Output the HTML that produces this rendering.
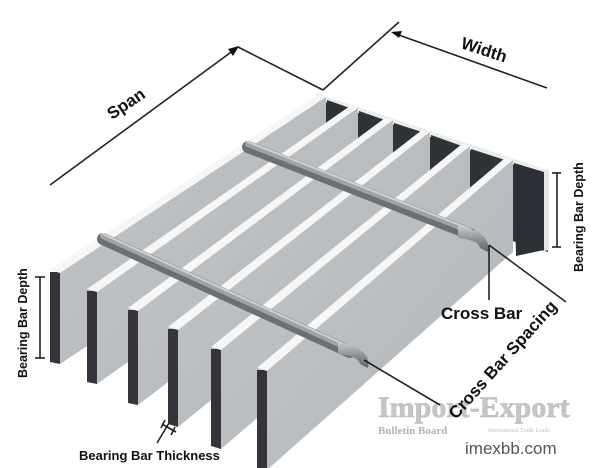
<!DOCTYPE html>
<html><head><meta charset="utf-8"><style>
html,body{margin:0;padding:0;background:#fff;}
svg{display:block;font-family:"Liberation Sans",Arial,sans-serif;}
</style></head><body>
<svg width="600" height="468" viewBox="0 0 600 468" xmlns="http://www.w3.org/2000/svg">
<defs>
<linearGradient id="side" x1="0" y1="0" x2="1" y2="1">
<stop offset="0" stop-color="#c4c7c9"/><stop offset="1" stop-color="#b0b4b7"/></linearGradient>
<linearGradient id="cb" x1="0" y1="0" x2="0" y2="1">
<stop offset="0" stop-color="#c8ccce"/><stop offset="0.5" stop-color="#8e9498"/><stop offset="1" stop-color="#5e6468"/></linearGradient>
</defs>
<polygon points="316,93 548,170 548,176 316,99" fill="#eceded"/>
<polygon points="316,99 548,176 548,252 316,180" fill="#2e3338"/>

<polygon points="60,272 326,97 326,187 60,364" fill="url(#side)"/>
<polygon points="50,272 60,272 60,364 50,362" fill="#34343a"/>
<polygon points="50,270 318,95 326,97 60,273" fill="#f6f6f6"/>
<polygon points="327,100 350,108 327,128" fill="#2e3338"/>
<polygon points="97,291 358,108 358,198 97,384" fill="url(#side)"/>
<polygon points="87,291 97,291 97,384 87,382" fill="#34343a"/>
<polygon points="87,289 350,106 358,108 97,292" fill="#f6f6f6"/>
<polygon points="359,111 385,120 359,140" fill="#2e3338"/>
<polygon points="138,310 393,120 393,210 138,405" fill="url(#side)"/>
<polygon points="128,310 138,310 138,405 128,403" fill="#34343a"/>
<polygon points="128,308 385,118 393,120 138,311" fill="#f6f6f6"/>
<polygon points="394,123 422,132 394,154" fill="#2e3338"/>
<polygon points="178,329 430,132 430,222 178,427" fill="url(#side)"/>
<polygon points="168,329 178,329 178,427 168,424" fill="#34343a"/>
<polygon points="168,327 422,130 430,132 178,330" fill="#f6f6f6"/>
<polygon points="431,135 462,146 431,170" fill="#2e3338"/>
<polygon points="221,349 470,146 470,236 221,449" fill="url(#side)"/>
<polygon points="211,349 221,349 221,449 211,446" fill="#34343a"/>
<polygon points="211,347 462,144 470,146 221,350" fill="#f6f6f6"/>
<polygon points="471,149 505,160 471,186" fill="#2e3338"/>
<polygon points="267,370 513,160 513,252 267,470" fill="url(#side)"/>
<polygon points="257,370 267,370 267,470 257,470" fill="#34343a"/>
<polygon points="257,368 505,158 513,160 267,371" fill="#f6f6f6"/>
<polygon points="514,163 544,172 544,250 516,256" fill="#2c3036"/>
<polygon points="544,170 549,171 549,250 544,251" fill="#e6e6e6"/>

<g stroke-linecap="round" fill="none">
<line x1="248" y1="147" x2="470" y2="234" stroke="#6a7074" stroke-width="12"/>
<line x1="248" y1="144" x2="470" y2="231" stroke="#9ea3a6" stroke-width="6"/>
<line x1="248" y1="142" x2="470" y2="229" stroke="#cfd2d4" stroke-width="2"/>
<line x1="103" y1="239" x2="350" y2="352" stroke="#6a7074" stroke-width="12"/>
<line x1="103" y1="236" x2="350" y2="349" stroke="#9ea3a6" stroke-width="6"/>
<line x1="103" y1="234" x2="350" y2="347" stroke="#cfd2d4" stroke-width="2"/>
</g>
<path d="M458,226 Q492,232 488,252 L480,248 Q478,240 458,238 Z" fill="url(#cb)"/>
<path d="M338,342 Q372,348 368,368 L360,364 Q358,356 338,354 Z" fill="url(#cb)"/>

<g opacity="0.75">
<text x="378" y="417" font-family="Liberation Serif,serif" font-size="30" font-weight="bold" fill="#b4b4b4" stroke="#999" stroke-width="0.5">Import-Export</text>
<text x="378" y="434" font-family="Liberation Serif,serif" font-size="11" font-weight="bold" fill="#999">Bulletin Board</text>
<text x="488" y="432" font-family="Liberation Serif,serif" font-size="6" fill="#aaa">International Trade Leads</text>
</g>
<text x="465" y="454" font-size="17" fill="#555">imexbb.com</text>

<g stroke="#222" stroke-width="1.6" fill="none">
<line x1="50" y1="185" x2="234" y2="50"/>
<line x1="238" y1="47" x2="323" y2="90"/>
<line x1="323" y1="90" x2="399" y2="22"/>
<line x1="396" y1="34" x2="547" y2="88"/>
<line x1="489" y1="245" x2="489" y2="300"/>
<line x1="489" y1="245" x2="566" y2="302"/>
<line x1="364" y1="360" x2="440" y2="405"/>
<line x1="40" y1="277" x2="40" y2="358"/>
<line x1="35" y1="277" x2="45" y2="277"/>
<line x1="35" y1="358" x2="45" y2="358"/>
<line x1="557" y1="173" x2="557" y2="247"/>
<line x1="552" y1="173" x2="561" y2="173"/>
<line x1="552" y1="247" x2="561" y2="247"/>
<line x1="157" y1="443" x2="169" y2="423"/>
<line x1="162" y1="424" x2="176" y2="432"/>
<line x1="165" y1="420" x2="161" y2="428"/>
<line x1="175" y1="427" x2="171" y2="435"/>
</g>
<polygon points="239,46 228,49 233,56" fill="#111"/>
<polygon points="391,32 402,31 399,38" fill="#111"/>

<g font-weight="bold" fill="#111">
<text x="0" y="0" font-size="17" transform="translate(112,120) rotate(-34)">Span</text>
<text x="0" y="0" font-size="17" transform="translate(460,48) rotate(18)">Width</text>
<text x="441" y="319" font-size="17">Cross Bar</text>
<text x="0" y="0" font-size="17" transform="translate(456,420) rotate(-48)">Cross Bar Spacing</text>
<text x="0" y="0" font-size="12.5" transform="translate(27,378) rotate(-90)">Bearing Bar Depth</text>
<text x="0" y="0" font-size="12.5" transform="translate(583,272) rotate(-90)">Bearing Bar Depth</text>
<text x="79" y="460" font-size="13">Bearing Bar Thickness</text>
</g>
</svg>
</body></html>
